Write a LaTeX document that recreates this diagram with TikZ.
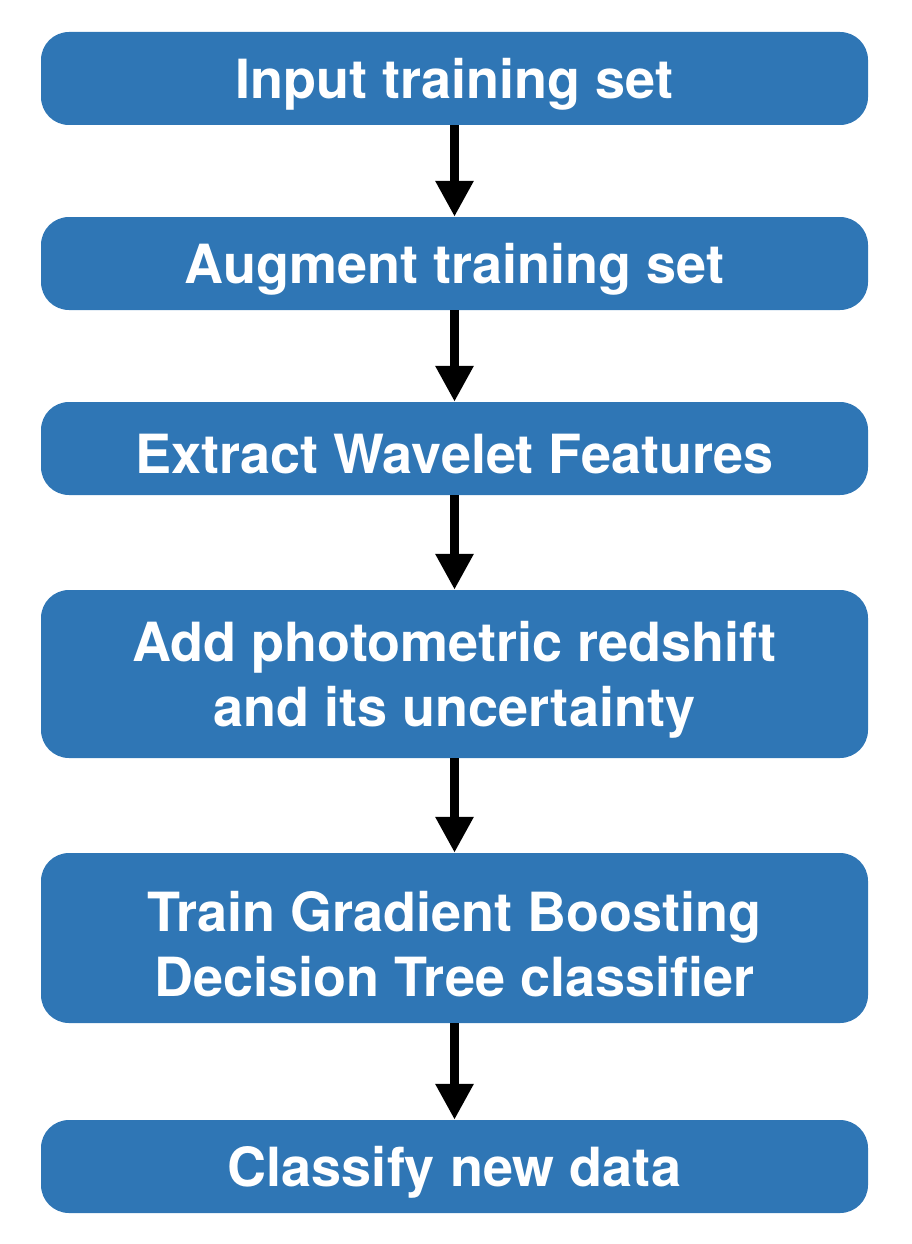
\documentclass[tikz,border=0pt]{standalone}
\usepackage{fontspec}
\setmainfont{TeX Gyre Heros}
\usetikzlibrary{arrows.meta}
\definecolor{boxblue}{HTML}{2F76B5}
\begin{document}
\begin{tikzpicture}[x=1pt,y=-1pt,
  stepbox/.style={fill=boxblue, draw=none, rounded corners=28pt, minimum width=827pt, inner sep=0pt},
  steptext/.style={text=white, font=\fontsize{54}{65}\selectfont\bfseries, align=center, inner sep=0pt, yshift=-6pt},
  flow/.style={line width=9pt, -{Triangle[width=36pt,length=36pt]}}]
\useasboundingbox (0,0) rectangle (912,1244);
\node[stepbox, minimum height=93pt] (b1) at (454.5,78.5) {};
\node[stepbox, minimum height=93pt] (b2) at (454.5,263.5) {};
\node[stepbox, minimum height=93pt] (b3) at (454.5,448.5) {};
\node[stepbox, minimum height=168pt] (b4) at (454.5,674) {};
\node[stepbox, minimum height=170pt] (b5) at (454.5,938) {};
\node[stepbox, minimum height=93pt] (b6) at (454.5,1166.5) {};
\node[steptext] (t1) at (b1.center) {Input training set};
\node[steptext] (t2) at (b2.center) {Augment training set};
\node[steptext] (t3) at (b3.center) {Extract Wavelet Features};
\node[steptext] (t4) at (b4.center) {Add photometric redshift\\and its uncertainty};
\node[steptext] (t5) at (b5.center) {Train Gradient Boosting\\Decision Tree classifier};
\node[steptext] (t6) at (b6.center) {Classify new data};
\draw[flow] (b1.south) -- (b2.north);
\draw[flow] (b2.south) -- (b3.north);
\draw[flow] (b3.south) -- (b4.north);
\draw[flow] (b4.south) -- (b5.north);
\draw[flow] (b5.south) -- (b6.north);
\end{tikzpicture}
\end{document}
